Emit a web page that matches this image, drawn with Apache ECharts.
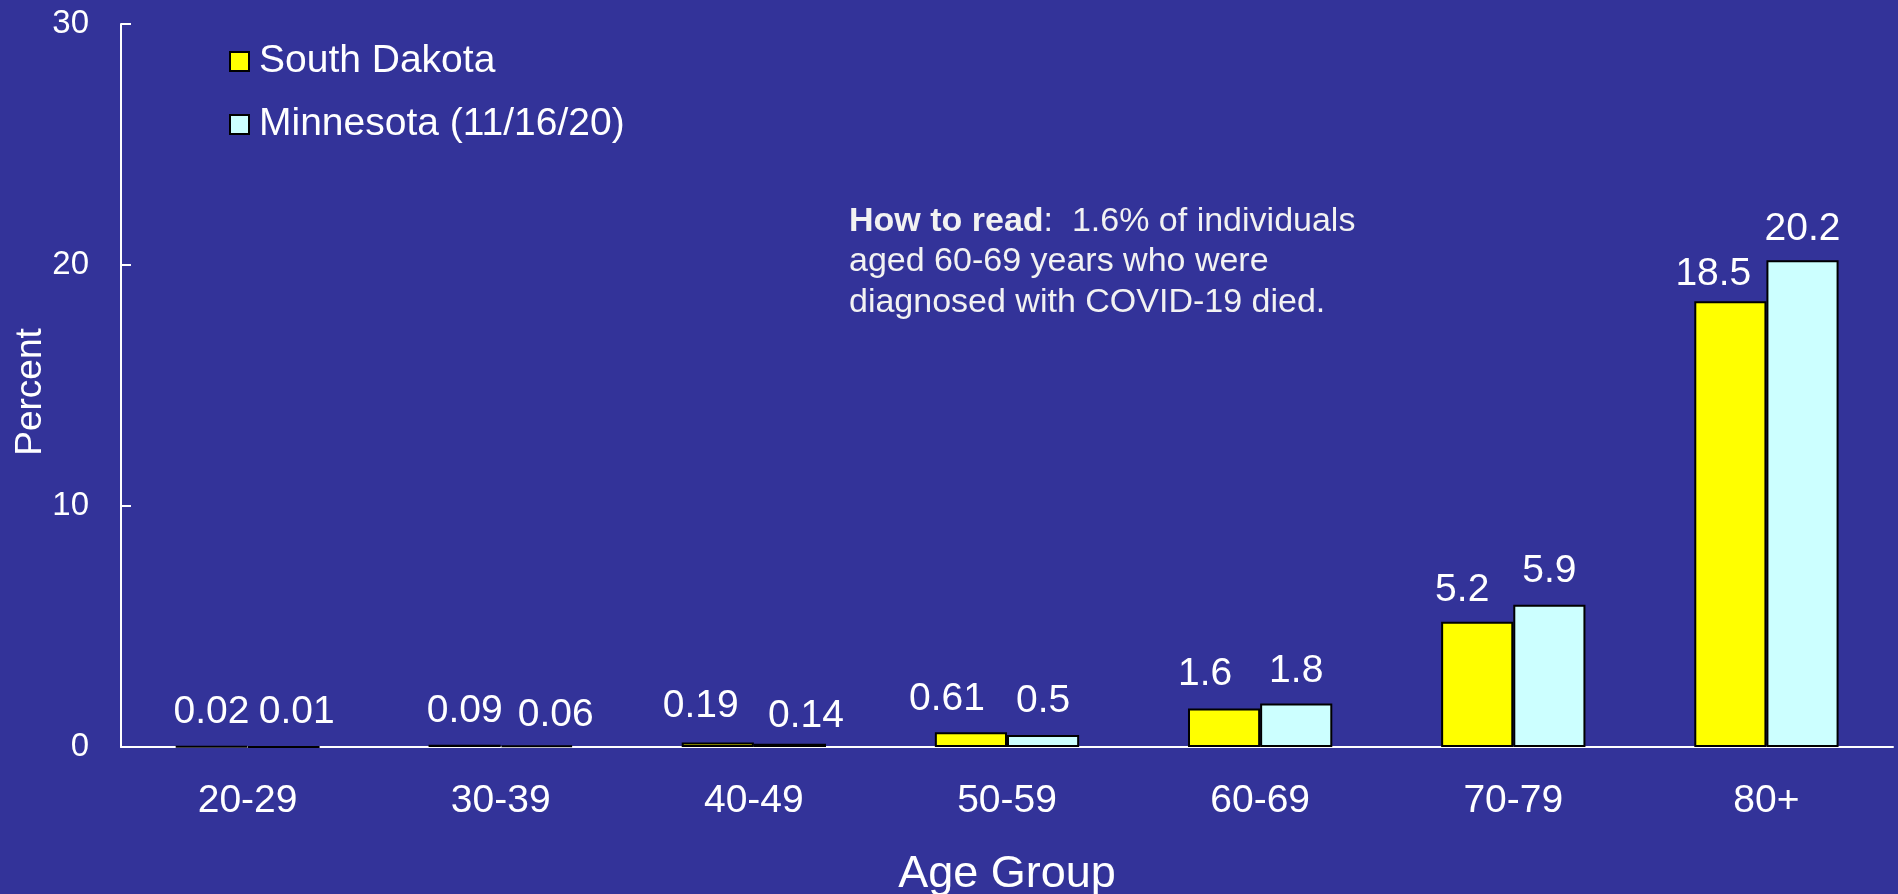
<!DOCTYPE html>
<html><head><meta charset="utf-8">
<script src="https://cdn.jsdelivr.net/npm/echarts@6/dist/echarts.min.js"></script>
<style>html,body{margin:0;padding:0;background:#333399;}#c{width:1898px;height:894px;}</style>
</head><body><div id="c"></div>
<script>
const categories = ['20-29','30-39','40-49','50-59','60-69','70-79','80+'];
const southDakota = [0.02, 0.09, 0.19, 0.61, 1.6, 5.2, 18.5];
const minnesota = [0.01, 0.06, 0.14, 0.5, 1.8, 5.9, 20.2];
const seriesNames = ['South Dakota', 'Minnesota (11/16/20)'];
const yTicks = [0, 10, 20, 30];
// label nudges (style only): [dx, dy] per bar, as placed in the original slide
const sdLabelNudge = [[0,0],[0,0],[-17,-3],[-24,0],[-19,-1],[-15,2],[-17,7]];
const mnLabelNudge = [[13,0],[19,3],[16,6],[0,0],[0,1],[0,0],[0,3]];
const FONT = '"Liberation Sans", Arial, sans-serif';

function withLabels(values, nudges){
  return values.map((v,i)=>({value:v, label:{offset:nudges[i]}}));
}

const chart = echarts.init(document.getElementById('c'), null, {renderer:'canvas'});
const labelStyle = {show:true, position:'top', distance:14, color:'#fff', fontSize:39, fontFamily:FONT};
chart.setOption({
  backgroundColor:'#333399',
  animation:false,
  textStyle:{fontFamily:FONT},
  grid:{left:121, right:5, top:24, bottom:147, containLabel:false, outerBoundsMode:'none'},
  legend:{
    orient:'vertical', left:224, top:36, itemWidth:19, itemHeight:19, itemGap:22,
    icon:'rect',
    textStyle:{color:'#fff', fontSize:39, fontFamily:FONT, lineHeight:41, padding:[0,0,0,5]},
    data:seriesNames
  },
  xAxis:{
    type:'category', data:categories,
    axisLine:{lineStyle:{color:'#fff', width:2}},
    axisTick:{show:false},
    axisLabel:{color:'#fff', fontSize:39, margin:35, fontFamily:FONT},
    name:'Age Group', nameLocation:'middle', nameGap:105, nameMoveOverlap:false,
    nameTextStyle:{color:'#fff', fontSize:45, fontFamily:FONT}
  },
  yAxis:{
    type:'value', min:yTicks[0], max:yTicks[yTicks.length-1], interval:10,
    splitLine:{show:false},
    axisLine:{show:true, lineStyle:{color:'#fff', width:2}},
    axisTick:{show:true, inside:true, length:10, lineStyle:{color:'#fff', width:2}},
    axisLabel:{color:'#fff', fontSize:33, margin:32, fontFamily:FONT},
    name:'Percent', nameLocation:'middle', nameGap:72, nameRotate:90, nameMoveOverlap:false,
    nameTextStyle:{color:'#fff', fontSize:37, fontFamily:FONT, padding:[0,13,0,0]}
  },
  series:[
    {name:seriesNames[0], type:'bar', data:withLabels(southDakota, sdLabelNudge), barGap:'0%', barCategoryGap:'43%',
     itemStyle:{color:'#FFFF00', borderColor:'#000', borderWidth:2},
     label:labelStyle},
    {name:seriesNames[1], type:'bar', data:withLabels(minnesota, mnLabelNudge), barGap:'0%', barCategoryGap:'43%',
     itemStyle:{color:'#CCFFFF', borderColor:'#000', borderWidth:2},
     label:labelStyle}
  ],
  graphic:[{
    type:'text', left:849, top:201,
    style:{
      text:'{b|How to read}:  1.6% of individuals\naged 60-69 years who were\ndiagnosed with COVID-19 died.',
      fill:'#f2f2f2', font:'34px ' + FONT, lineHeight:40.5,
      rich:{b:{fontWeight:'bold', fontSize:34, fill:'#f2f2f2', fontFamily:FONT, lineHeight:40.5}}
    }
  }]
});
</script></body></html>
